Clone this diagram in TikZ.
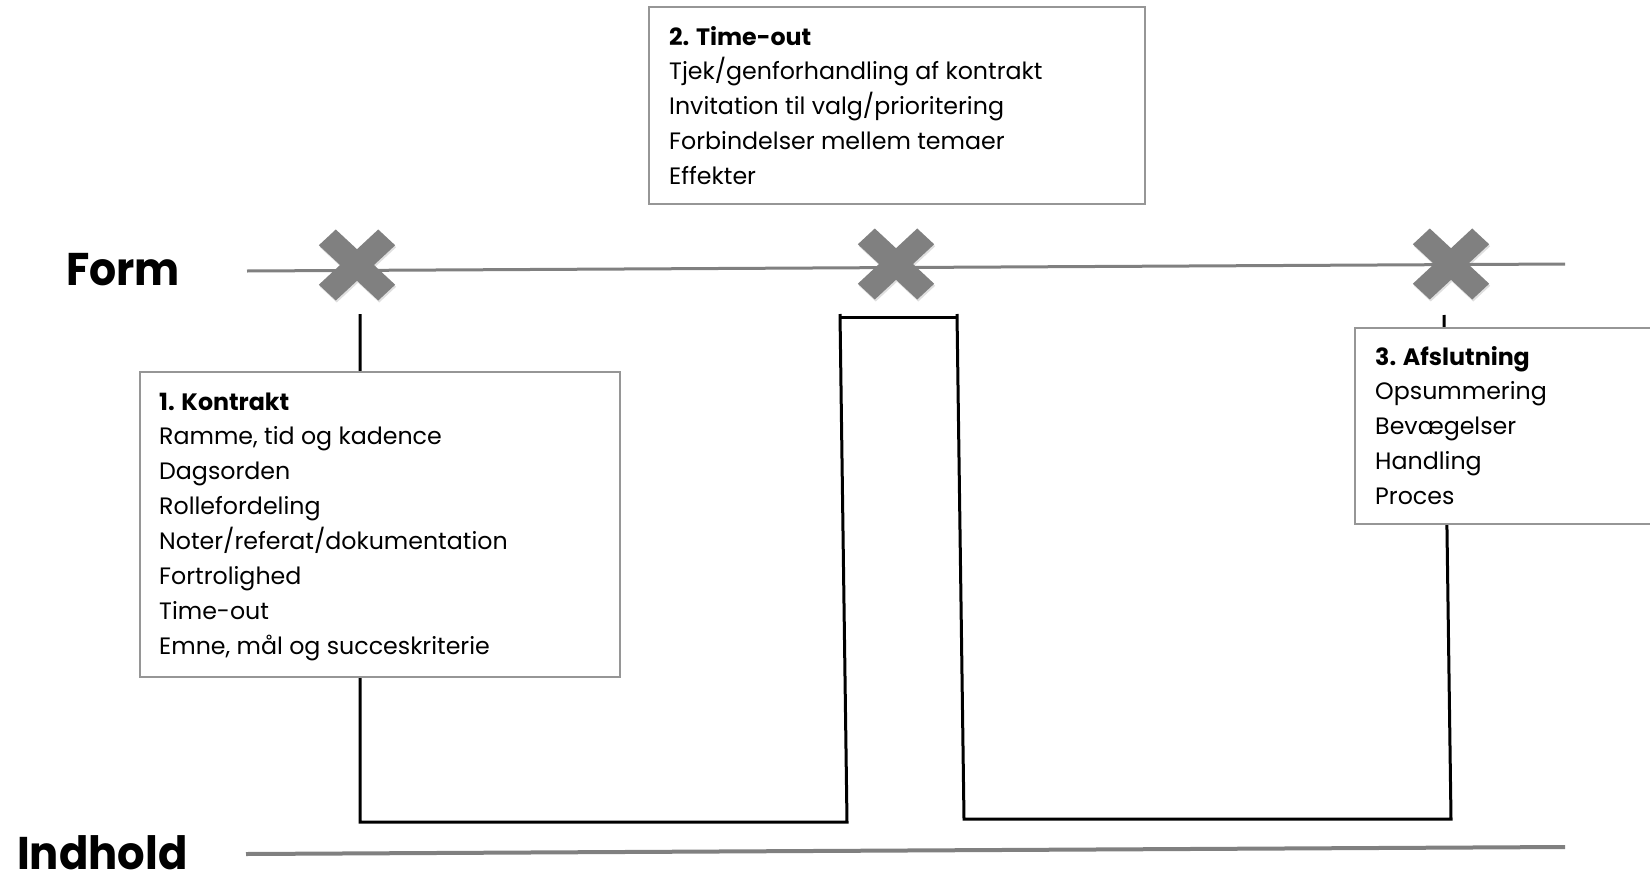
\documentclass[tikz,border=0pt]{standalone}
\usepackage{fontspec}
\setmainfont{Poppins}
\usetikzlibrary{shadows}
\definecolor{crossgray}{RGB}{128,128,128}
\definecolor{linegray}{RGB}{128,128,128}
\definecolor{boxgray}{RGB}{150,150,150}
\newcommand{\boxfont}{\fontsize{23.8}{35}\selectfont}
\tikzset{
  axisline/.style={draw=linegray, line width=3bp},
  stepline/.style={draw=black, line width=3bp, line join=miter},
  infobox/.style={draw=boxgray, line width=1.8bp, fill=white, rectangle, inner sep=0pt, anchor=north west},
  boxtext/.style={anchor=base west, inner sep=0pt, font=\boxfont},
  axislabel/.style={anchor=base west, inner sep=0pt, font=\fontsize{46}{46}\selectfont\bfseries},
  xmark/.pic={
    \fill[crossgray, rotate=45, drop shadow={opacity=0.25, shadow xshift=1bp, shadow yshift=-2bp}]
      (42,12) -- (12,12) -- (12,42) -- (-12,42) -- (-12,12) -- (-42,12) -- (-42,-12)
      -- (-12,-12) -- (-12,-42) -- (12,-42) -- (12,-12) -- (42,-12) -- cycle;
  }
}
\begin{document}
\begin{tikzpicture}[x=1bp, y=-1bp]
\useasboundingbox (0,0) rectangle (1650,878);
\clip (0,0) rectangle (1650,878);

% axis labels
\node[axislabel] (form) at (66,285) {\scalebox{0.93}[1]{Form}};
\node[axislabel] (indhold) at (17,869) {\scalebox{0.945}[1]{Indhold}};

% axis lines
\coordinate (fl1) at (247,271);
\coordinate (fl2) at (1565,264);
\coordinate (il1) at (246,854);
\coordinate (il2) at (1565,847);
\draw[axisline] (fl1) -- (fl2);
\draw[axisline, line width=4bp] (il1) -- (il2);

% step path
\coordinate (pA) at (360,314);
\coordinate (pB) at (360,822);
\coordinate (pC) at (847,822);
\coordinate (pD) at (840,314);
\coordinate (pD2) at (841,317);
\coordinate (pE) at (957,317);
\coordinate (pE2) at (957,314);
\coordinate (pF) at (964,819);
\coordinate (pG) at (1451,819);
\coordinate (pH) at (1444,315);
\draw[stepline] (pA) -- (pB) -- (pC) -- (pD);
\draw[stepline] (pD2) -- (pE);
\draw[stepline] (pE2) -- (pF) -- (pG) -- (pH);

% cross marks
\pic[yscale=0.93] (x1) at (357,265) {xmark};
\pic[yscale=0.93] (x2) at (896,264) {xmark};
\pic[yscale=0.93] (x3) at (1451,264) {xmark};

% boxes
\node[infobox, minimum width=480bp, minimum height=305bp] (kbox) at (139,371) {};
\node[infobox, minimum width=496bp, minimum height=197bp] (tbox) at (648,6) {};
\node[infobox, minimum width=330bp, minimum height=196bp] (abox) at (1354,327) {};

\node[boxtext] (ktext) at (159,410) {\parbox[t]{450bp}{\boxfont
\textbf{1. Kontrakt}\\
Ramme, tid og kadence\\
Dagsorden\\
Rollefordeling\\
Noter/referat/dokumentation\\
Fortrolighed\\
Time-out\\
Emne, mål og succeskriterie}};

\node[boxtext] (ttext) at (669,45) {\parbox[t]{470bp}{\boxfont
\textbf{2. Time-out}\\
Tjek/genforhandling af kontrakt\\
Invitation til valg/prioritering\\
Forbindelser mellem temaer\\
Effekter}};

\node[boxtext] (atext) at (1375,365) {\parbox[t]{260bp}{\boxfont
\textbf{3. Afslutning}\\
Opsummering\\
Bevægelser\\
Handling\\
Proces}};
\end{tikzpicture}
\end{document}
